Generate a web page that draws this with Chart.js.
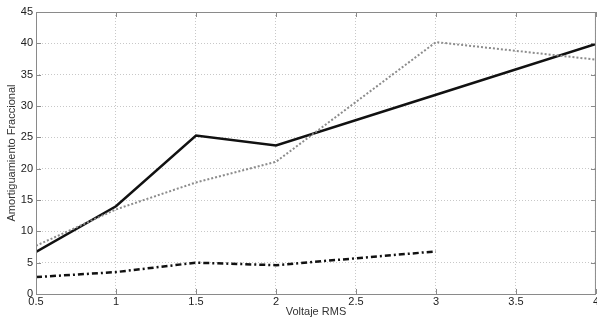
<!DOCTYPE html>
<html>
<head>
<meta charset="utf-8">
<script src="https://cdn.jsdelivr.net/npm/chart.js@4.4.1/dist/chart.umd.min.js"></script>
<style>
  html, body { margin: 0; padding: 0; background: #fff; overflow: hidden; }
  #wrap { width: 600px; height: 322px; }
</style>
</head>
<body>
<div id="wrap"><canvas id="chart"></canvas></div>
<script>
// data
const solidX = [0.5, 1, 1.5, 2, 3, 4];
const solidY = [6.7, 14.0, 25.3, 23.7, 31.8, 39.9];
const dottedX = [0.5, 1, 1.5, 2, 3, 4];
const dottedY = [7.7, 13.5, 17.8, 21.1, 40.2, 37.4];
const dashDotX = [0.5, 1, 1.5, 2, 3];
const dashDotY = [2.7, 3.5, 5.0, 4.6, 6.8];
const xTicks = [0.5, 1, 1.5, 2, 2.5, 3, 3.5, 4];
const yTicks = [0, 5, 10, 15, 20, 25, 30, 35, 40, 45];

const toPts = (xs, ys) => xs.map((x, i) => ({ x: x, y: ys[i] }));

// box around the plot plus inward ticks, like matlab
const boxPlugin = {
    id: 'box',
    afterDraw(chart) {
        const { ctx, chartArea: a, scales } = chart;
        ctx.save();
        ctx.strokeStyle = '#8a8a8a';
        ctx.lineWidth = 1;
        ctx.strokeRect(a.left + 0.5, a.top + 0.5, a.right - a.left - 1, a.bottom - a.top);
        ctx.beginPath();
        xTicks.forEach(v => {
            const px = Math.round(scales.x.getPixelForValue(v)) + 0.5;
            ctx.moveTo(px, a.bottom); ctx.lineTo(px, a.bottom - 5);
            ctx.moveTo(px, a.top); ctx.lineTo(px, a.top + 5);
        });
        yTicks.forEach(v => {
            const py = Math.round(scales.y.getPixelForValue(v)) + 0.5;
            ctx.moveTo(a.left, py); ctx.lineTo(a.left + 5, py);
            ctx.moveTo(a.right, py); ctx.lineTo(a.right - 5, py);
        });
        ctx.stroke();
        ctx.restore();
    }
};

new Chart(document.getElementById('chart'), {
    type: 'line',
    data: {
        datasets: [
            {
                data: toPts(dottedX, dottedY),
                borderColor: '#8c8c8c',
                borderWidth: 2,
                borderDash: [2, 2],
                pointRadius: 0,
                tension: 0
            },
            {
                data: toPts(solidX, solidY),
                borderColor: '#111',
                borderWidth: 2.5,
                pointRadius: 0,
                tension: 0
            },
            {
                data: toPts(dashDotX, dashDotY),
                borderColor: '#111',
                borderWidth: 2.5,
                borderDash: [6, 3, 2, 3],
                pointRadius: 0,
                tension: 0
            }
        ]
    },
    options: {
        responsive: true,
        maintainAspectRatio: false,
        animation: false,
        layout: { padding: { top: 12, right: 0, left: 0, bottom: 0 } },
        plugins: { legend: { display: false }, tooltip: { enabled: false } },
        scales: {
            x: {
                type: 'linear',
                min: 0.5,
                max: 4,
                afterBuildTicks: s => { s.ticks = xTicks.map(v => ({ value: v })); },
                ticks: {
                    color: '#222',
                    font: { family: 'Liberation Sans', size: 11 },
                    padding: 1,
                    maxRotation: 0,
                    autoSkip: false,
                    callback: v => String(v)
                },
                grid: { color: '#c8c8c8', lineWidth: 1, drawTicks: false },
                border: { display: false, dash: [1, 2] },
                title: {
                    display: true,
                    text: 'Voltaje RMS',
                    color: '#333',
                    font: { family: 'Liberation Sans', size: 11 },
                    padding: { top: 0, bottom: 3 }
                },
                afterFit: s => { s.height = 28; }
            },
            y: {
                min: 0,
                max: 45,
                afterBuildTicks: s => { s.ticks = yTicks.map(v => ({ value: v })); },
                ticks: {
                    color: '#222',
                    font: { family: 'Liberation Sans', size: 11 },
                    padding: 3,
                    callback: v => String(v)
                },
                grid: { color: '#c8c8c8', lineWidth: 1, drawTicks: false },
                border: { display: false, dash: [1, 2] },
                title: {
                    display: true,
                    text: 'Amortiguamiento Fraccional',
                    color: '#333',
                    font: { family: 'Liberation Sans', size: 11 },
                    padding: { top: 5, bottom: 0 }
                },
                afterFit: s => { s.width = 36; }
            }
        }
    },
    plugins: [boxPlugin]
});
</script>
</body>
</html>
